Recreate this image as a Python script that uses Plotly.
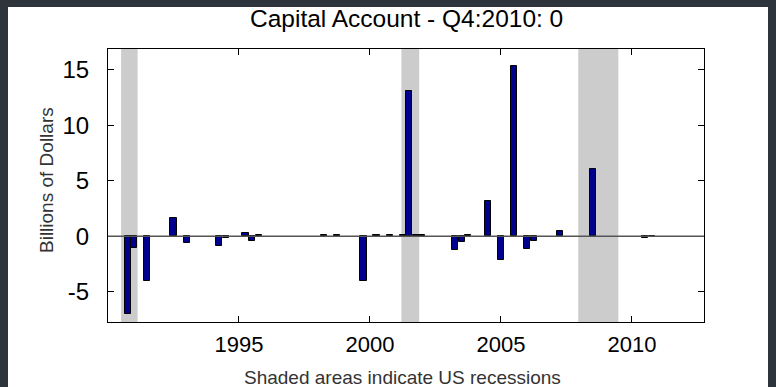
import plotly.graph_objects as go

# ---- data ----
quarters = ["1990Q4", "1991Q1", "1991Q3", "1992Q3", "1993Q1", "1994Q2", "1994Q3",
            "1995Q2", "1995Q3", "1995Q4", "1998Q2", "1998Q4", "1999Q4", "2000Q2",
            "2000Q4", "2001Q2", "2001Q3", "2001Q4", "2002Q1", "2003Q2", "2003Q3",
            "2003Q4", "2004Q3", "2005Q1", "2005Q3", "2006Q1", "2006Q2", "2007Q2",
            "2008Q3", "2010Q3", "2010Q4"]
values = [-7.0, -1.1, -4.0, 1.65, -0.6, -0.85, -0.15,
          0.3, -0.4, 0.1, 0.1, 0.1, -4.05, 0.1,
          0.1, 0.1, 13.1, 0.07, 0.07, -1.2, -0.48,
          0.1, 3.2, -2.1, 15.3, -1.17, -0.45, 0.48,
          6.07, -0.15, 0.0]
recessions = [(1990.5, 1991.13), (2001.2, 2001.88), (2007.95, 2009.48)]
x_ticks = [1995, 2000, 2005, 2010]
y_ticks = [-5, 0, 5, 10, 15]

def qpos(q):
    return int(q[:4]) + (int(q[5]) - 1) / 4.0

xs = [qpos(q) for q in quarters]

# ---- layout geometry (pixels) ----
W, H = 776, 387
L, R, T, B = 108, 704, 49, 322
pw, ph = R - L, B - T

def px(x):
    return (x - L) / pw

def py(y):
    return (B - y) / ph

FONT = "Liberation Sans, Arial, sans-serif"

fig = go.Figure()
fig.add_trace(go.Bar(
    x=xs, y=values, width=0.235,
    marker=dict(color="#00008C", line=dict(color="#000000", width=1)),
    showlegend=False, hoverinfo="x+y",
))

shapes = [dict(type="rect", xref="paper", yref="paper",
               x0=px(8), x1=px(768), y0=py(395), y1=py(7),
               fillcolor="white", line=dict(width=0), layer="below")]
for a, b in recessions:
    shapes.append(dict(type="rect", xref="x", yref="paper", x0=a, x1=b, y0=0, y1=1,
                       fillcolor="#cccccc", line=dict(width=0), layer="below"))
shapes.append(dict(type="line", xref="paper", yref="y", x0=0, x1=1, y0=0, y1=0,
                   line=dict(color="#555555", width=1.5), layer="above"))

fig.update_layout(
    width=W, height=H,
    margin=dict(l=L, r=W - R, t=T, b=H - B, pad=0),
    paper_bgcolor="#2d343c",
    plot_bgcolor="rgba(0,0,0,0)",
    shapes=shapes,
    bargap=0,
    font=dict(family=FONT, color="#000000"),
    xaxis=dict(range=[1990.0, 2012.75], tickvals=x_ticks, ticktext=[str(t) for t in x_ticks],
               ticks="inside", ticklen=6, tickcolor="#000", tickwidth=1,
               showline=True, linecolor="#000", linewidth=1, mirror="ticks",
               showgrid=False, zeroline=False,
               tickfont=dict(size=22, family=FONT, color="#000"), ticklabelstandoff=3),
    yaxis=dict(range=[-7.72, 16.85], tickvals=y_ticks, ticktext=[str(t) for t in y_ticks],
               ticks="inside", ticklen=6, tickcolor="#000", tickwidth=1,
               showline=True, linecolor="#000", linewidth=1, mirror="ticks",
               showgrid=False, zeroline=False,
               tickfont=dict(size=24, family=FONT, color="#000"), ticklabelstandoff=13),
    annotations=[
        dict(text="Capital Account - Q4:2010: 0", xref="paper", yref="paper",
             x=px(406), y=py(19), xanchor="center", yanchor="middle", showarrow=False,
             font=dict(size=24.5, family=FONT, color="#000")),
        dict(text="Billions of Dollars", xref="paper", yref="paper",
             x=px(46), y=py(180), xanchor="center", yanchor="middle", showarrow=False,
             textangle=-90, font=dict(size=19, family=FONT, color="#333")),
        dict(text="Shaded areas indicate US recessions", xref="paper", yref="paper",
             x=px(402), y=py(377), xanchor="center", yanchor="middle", showarrow=False,
             font=dict(size=19, family=FONT, color="#333")),
    ],
)

fig.write_html("out.html", config={"displayModeBar": False},
               post_script="document.body.style.margin='0';document.body.style.background='#2d343c';")
